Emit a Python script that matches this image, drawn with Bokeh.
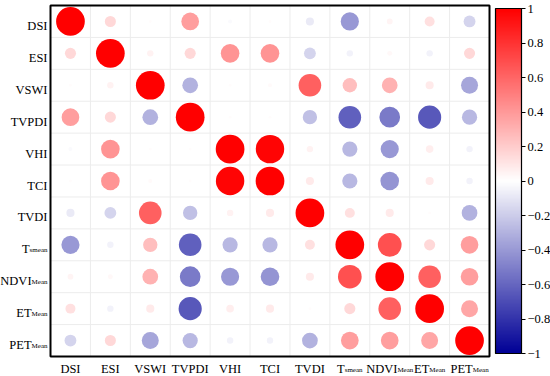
import math
from bokeh.plotting import figure
from bokeh.models import (Range1d, FixedTicker, LinearColorMapper, ColorBar,
                          Label, ColumnDataSource)
from bokeh.transform import linear_cmap
from bokeh.embed import file_html
from bokeh.resources import INLINE

# ---------------- data ----------------
names = ["DSI", "ESI", "VSWI", "TVPDI", "VHI", "TCI", "TVDI",
         "Tsmean", "NDVIMean", "ETMean", "PETMean"]
label_main = ["DSI", "ESI", "VSWI", "TVPDI", "VHI", "TCI", "TVDI",
              "T", "NDVI", "ET", "PET"]
label_sub = ["", "", "", "", "", "", "", "smean", "Mean", "Mean", "Mean"]

r_DSI     = [1.00, 0.15, 0.01, 0.38, -0.02, 0.01, -0.08, -0.40, 0.04, 0.12, -0.17]
r_ESI     = [0.15, 1.00, 0.05, 0.15, 0.42, 0.42, -0.17, -0.05, 0.03, -0.05, 0.15]
r_VSWI    = [0.01, 0.05, 1.00, -0.30, 0.01, 0.02, 0.62, 0.25, 0.30, 0.08, -0.35]
r_TVPDI   = [0.38, 0.15, -0.30, 1.00, 0.01, 0.01, -0.25, -0.62, -0.52, -0.65, -0.28]
r_VHI     = [-0.02, 0.42, 0.01, 0.01, 1.00, 0.98, 0.05, -0.28, -0.40, 0.07, -0.05]
r_TCI     = [0.01, 0.42, 0.02, 0.01, 0.98, 1.00, 0.08, -0.28, -0.42, 0.08, -0.05]
r_TVDI    = [-0.08, -0.17, 0.62, -0.25, 0.05, 0.08, 1.00, 0.12, 0.08, 0.01, -0.30]
r_Tsmean  = [-0.40, -0.05, 0.25, -0.62, -0.28, -0.28, 0.12, 1.00, 0.68, 0.15, 0.38]
r_NDVI    = [0.04, 0.03, 0.30, -0.52, -0.40, -0.42, 0.08, 0.68, 1.00, 0.62, 0.38]
r_ET      = [0.12, -0.05, 0.08, -0.65, 0.07, 0.08, 0.01, 0.15, 0.62, 1.00, 0.35]
r_PET     = [-0.17, 0.15, -0.35, -0.28, -0.05, -0.05, -0.30, 0.38, 0.38, 0.35, 1.00]
rows = [r_DSI, r_ESI, r_VSWI, r_TVPDI, r_VHI, r_TCI, r_TVDI,
        r_Tsmean, r_NDVI, r_ET, r_PET]
cbar_ticks = [-1, -0.8, -0.6, -0.4, -0.2, 0, 0.2, 0.4, 0.6, 0.8, 1]

# ---------------- style ----------------
n = len(names)
FONT = "'Liberation Serif'"
W, H = 550, 376
LEFT, BOTTOM, TOP, RIGHT = 50, 20, 5, 61   # pixels around the cell block
ux = (W - LEFT - RIGHT) / n
uy = (H - TOP - BOTTOM) / n
CB_LEFT, CB_W, CB_TOP, CB_BOT = 495, 26, 8, 353   # colour bar box, px

def px_x(px):
    return (px - LEFT) / ux

def px_y(py):
    return (H - py - BOTTOM) / uy

def blend(v):
    if v < 0:
        t = -v
        return "#%02x%02x%02x" % (round(255 * (1 - t)), round(255 * (1 - t)),
                                  round(255 - (255 - 150) * t))
    return "#%02x%02x%02x" % (255, round(255 * (1 - v)), round(255 * (1 - v)))

palette = [blend(-1 + 2 * i / 255) for i in range(256)]
mapper = LinearColorMapper(palette=palette, low=-1, high=1)

xs, ys, rs, rad = [], [], [], []
for i, row in enumerate(rows):
    for j, v in enumerate(row):
        xs.append(j + 0.5)
        ys.append(n - 0.5 - i)
        rs.append(v)
        rad.append(0.45 * math.sqrt(abs(v)))
src = ColumnDataSource(dict(x=xs, y=ys, r=rs, rad=rad))

p = figure(width=W, height=H,
           x_range=Range1d(-LEFT / ux, n + RIGHT / ux),
           y_range=Range1d(-BOTTOM / uy, n + TOP / uy),
           x_axis_location=None, y_axis_location=None,
           output_backend="svg", toolbar_location=None,
           min_border=0)
p.background_fill_color = "white"
p.border_fill_color = "white"
p.outline_line_color = None
p.grid.visible = False

# cell grid lines
bounds = list(range(1, n))
p.segment(x0=bounds, y0=[0] * len(bounds), x1=bounds, y1=[n] * len(bounds),
          line_color="#ececec", line_width=1)
p.segment(x0=[0] * len(bounds), y0=bounds, x1=[n] * len(bounds), y1=bounds,
          line_color="#ececec", line_width=1)

p.circle(x="x", y="y", radius="rad", radius_dimension="y", source=src,
         fill_color=linear_cmap("r", palette, -1, 1), line_color=None)

# frame of the matrix
p.quad(left=[0], right=[n], bottom=[0], top=[n], fill_color=None,
       line_color="black", line_width=2)

# text widths (Times metrics, em)
MET = {"T": .611, "N": .722, "D": .722, "V": .722, "I": .333, "E": .611,
       "P": .556, "s": .389, "m": .778, "e": .444, "a": .444, "n": .5,
       "M": .889, "S": .556, "W": .944, "H": .722, "C": .667}
def tw(s, size):
    return sum(MET.get(c, .5) for c in s) * size

YM, YS = 12.5, 7
XM, XS = 12.5, 7
for i in range(n):
    m, s = label_main[i], label_sub[i]
    yc = n - 0.5 - i
    sw = tw(s, YS)
    if s:
        p.add_layout(Label(x=0, y=yc, x_offset=-3, y_offset=-5.5, text=s,
                           text_align="right", text_baseline="alphabetic",
                           text_font=FONT, text_font_size=f"{YS}px",
                           text_color="black"))
    p.add_layout(Label(x=0, y=yc, x_offset=-3 - sw, y_offset=-4.5, text=m,
                       text_align="right", text_baseline="alphabetic",
                       text_font=FONT, text_font_size=f"{YM}px",
                       text_color="black"))
    xc = i + 0.5
    mw, sw = tw(m, XM), tw(s, XS)
    left = -(mw + sw) / 2
    p.add_layout(Label(x=xc, y=0, x_offset=left, y_offset=-12.5, text=m,
                       text_align="left", text_baseline="alphabetic",
                       text_font=FONT, text_font_size=f"{XM}px",
                       text_color="black"))
    if s:
        p.add_layout(Label(x=xc, y=0, x_offset=left + mw, y_offset=-13.5, text=s,
                           text_align="left", text_baseline="alphabetic",
                           text_font=FONT, text_font_size=f"{XS}px",
                           text_color="black"))

# colour bar (labels drawn as serif labels)
cb = ColorBar(color_mapper=mapper, width=CB_W, height=CB_BOT - CB_TOP,
              location=(CB_LEFT, H - CB_BOT),
              margin=0, padding=0,
              ticker=FixedTicker(ticks=cbar_ticks),
              major_label_overrides={t: "" for t in cbar_ticks},
              bar_line_color="black", bar_line_width=1.2,
              major_tick_line_color="black", major_tick_in=0, major_tick_out=4,
              minor_tick_line_color=None, label_standoff=3,
              major_label_text_font_size="12px",
              border_line_color=None, background_fill_color=None)
p.add_layout(cb, "center")

for t in cbar_ticks:
    ypix = CB_BOT - (t + 1) / 2 * (CB_BOT - CB_TOP)
    p.add_layout(Label(x=px_x(CB_LEFT + CB_W), y=px_y(ypix), x_offset=6,
                       text=("%g" % t).replace("-", "\u2212"),
                       text_align="left", text_baseline="middle",
                       text_font=FONT, text_font_size="12.5px",
                       text_color="black"))

open("out.html", "w").write(file_html(p, INLINE))
